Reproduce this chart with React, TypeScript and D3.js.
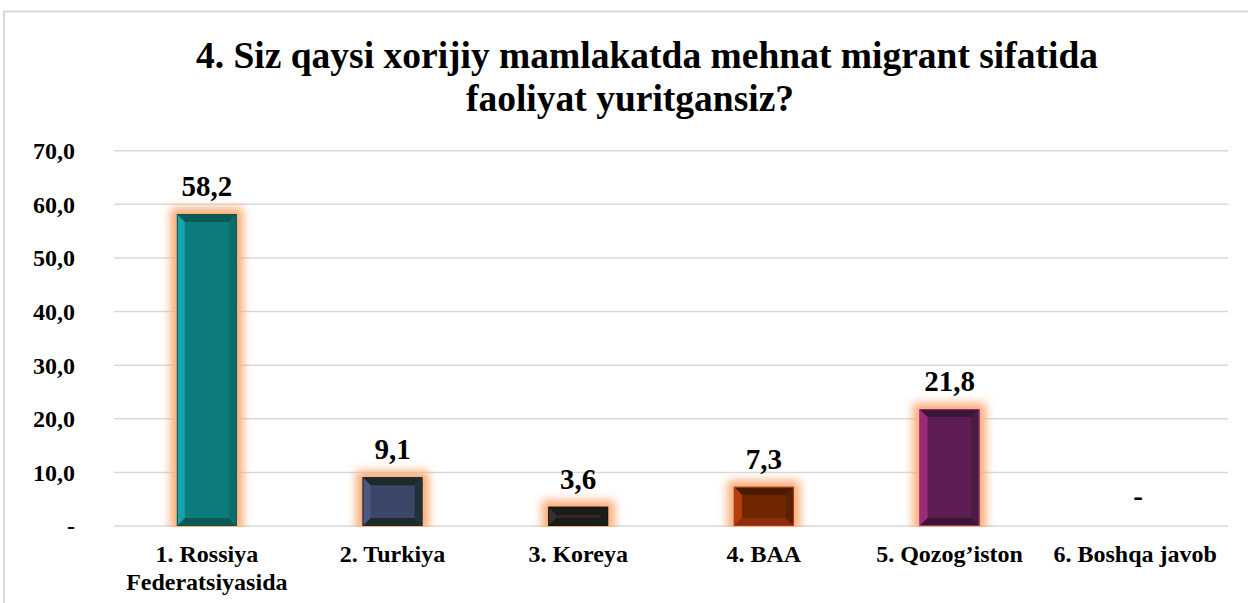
import React from "react";
import * as d3 from "d3";

const categories = [
  ["1. Rossiya", "Federatsiyasida"],
  ["2. Turkiya"],
  ["3. Koreya"],
  ["4. BAA"],
  ["5. Qozog\u2019iston"],
  ["6. Boshqa javob"],
];
const values = [58.2, 9.1, 3.6, 7.3, 21.8, 0];
const yTicks = [0, 10, 20, 30, 40, 50, 60, 70];
const titleLines = [
  "4. Siz qaysi xorijiy mamlakatda mehnat migrant sifatida",
  "faoliyat yuritgansiz?",
];
const palette = [
  { face: "#107c7e", top: "#0b5a54", bottom: "#0b5a54", left: "#18a3ad", right: "#0e6d6a", edge: "#0a5550" },
  { face: "#3a4668", top: "#1e2b2c", bottom: "#1e2b2c", left: "#4b5a82", right: "#23333a", edge: "#1d2a2a" },
  { face: "#33272a", top: "#1a1a17", bottom: "#1a1a17", left: "#3a2e2e", right: "#1e1e1a", edge: "#161613" },
  { face: "#722806", top: "#4a1c05", bottom: "#8a2e07", left: "#b83c0c", right: "#5a2005", edge: "#b33a0a" },
  { face: "#5d1f52", top: "#3a1434", bottom: "#3a1434", left: "#9b2c7a", right: "#4a1a42", edge: "#9b2d7a" },
  { face: "#888", top: "#666", bottom: "#666", left: "#999", right: "#777", edge: "#666" },
];

const fmt = (v: number) => (v === 0 ? "-" : v.toFixed(1).replace(".", ","));

export default function App() {
  const W = 1248, H = 603;
  const left = 114, right = 1228, top = 150.7, bottom = 526;
  const x = d3.scaleBand<number>().domain(d3.range(categories.length)).range([left, right]).paddingInner(0).paddingOuter(0);
  const y = d3.scaleLinear().domain([0, 70]).range([bottom, top]);
  const bw = 60;
  const ts = { fontFamily: "'Liberation Serif', 'Times New Roman', serif", fontWeight: 700 as const };
  const titleX = [647, 630];

  return (
    <svg width={W} height={H} style={{ position: "absolute", left: 0, top: 0, background: "#fff" }}>
      <defs>
        <filter id="glow" x="-80%" y="-80%" width="260%" height="260%">
          <feMorphology in="SourceAlpha" operator="dilate" radius="6" result="d" />
          <feGaussianBlur in="d" stdDeviation="5" result="b" />
          <feFlood floodColor="#f8aa74" floodOpacity="1" />
          <feComposite in2="b" operator="in" result="g" />
          <feMerge>
            <feMergeNode in="g" />
            <feMergeNode in="SourceGraphic" />
          </feMerge>
        </filter>
        <clipPath id="plotclip">
          <rect x={0} y={0} width={W} height={bottom + 1} />
        </clipPath>
      </defs>
      <rect x={4} y={11.5} width={W + 10} height={H + 10} fill="none" stroke="#d9d9d9" strokeWidth={2} />
      {titleLines.map((t, i) => (
        <text key={i} x={titleX[i]} y={68 + i * 43} textAnchor="middle" fontSize={37.5} style={ts} fill="#000">
          {t}
        </text>
      ))}
      {yTicks.map((t) => (
        <g key={t}>
          <line x1={left} x2={right} y1={y(t)} y2={y(t)} stroke="#d9d9d9" strokeWidth={1.5} />
          <text x={75} y={y(t)} dy="0.35em" textAnchor="end" fontSize={24} style={ts} fill="#000">
            {fmt(t)}
          </text>
        </g>
      ))}
      <g clipPath="url(#plotclip)">
        {values.map((v, i) => {
          if (v <= 0) return null;
          const cx = x(i)! + x.bandwidth() / 2;
          const x0 = cx - bw / 2, x1 = cx + bw / 2;
          const y0 = y(v), y1 = y(0);
          const h = y1 - y0;
          const b = Math.min(8, h / 2 - 1.5);
          const c = palette[i];
          const p = (pts: number[][]) => pts.map((q) => q.join(",")).join(" ");
          return (
            <g key={i} filter="url(#glow)">
              <rect x={x0} y={y0} width={bw} height={h} fill={c.face} />
              <polygon points={p([[x0, y0], [x1, y0], [x1 - b, y0 + b], [x0 + b, y0 + b]])} fill={c.top} />
              <polygon points={p([[x0, y1], [x1, y1], [x1 - b, y1 - b], [x0 + b, y1 - b]])} fill={c.bottom} />
              <polygon points={p([[x0, y0], [x0 + b, y0 + b], [x0 + b, y1 - b], [x0, y1]])} fill={c.left} />
              <polygon points={p([[x1, y0], [x1 - b, y0 + b], [x1 - b, y1 - b], [x1, y1]])} fill={c.right} />
              <rect x={x0 + 0.5} y={y0 + 0.5} width={bw - 1} height={h - 1} fill="none" stroke={c.edge} strokeWidth={1} />
            </g>
          );
        })}
      </g>
      {values.map((v, i) => {
        const cx = x(i)! + x.bandwidth() / 2;
        return (
          <text key={i} x={cx + (v === 0 ? 3 : 0)} y={v === 0 ? y(0) - 20 : y(v) - 18} textAnchor="middle" fontSize={29} style={ts} fill="#000">
            {fmt(v)}
          </text>
        );
      })}
      {categories.map((lines, i) => {
        const cx = x(i)! + x.bandwidth() / 2;
        return (
          <text key={i} x={cx} y={562} textAnchor="middle" fontSize={24} style={ts} fill="#000">
            {lines.map((l, j) => (
              <tspan key={j} x={cx} dy={j === 0 ? 0 : 28}>{l}</tspan>
            ))}
          </text>
        );
      })}
    </svg>
  );
}
